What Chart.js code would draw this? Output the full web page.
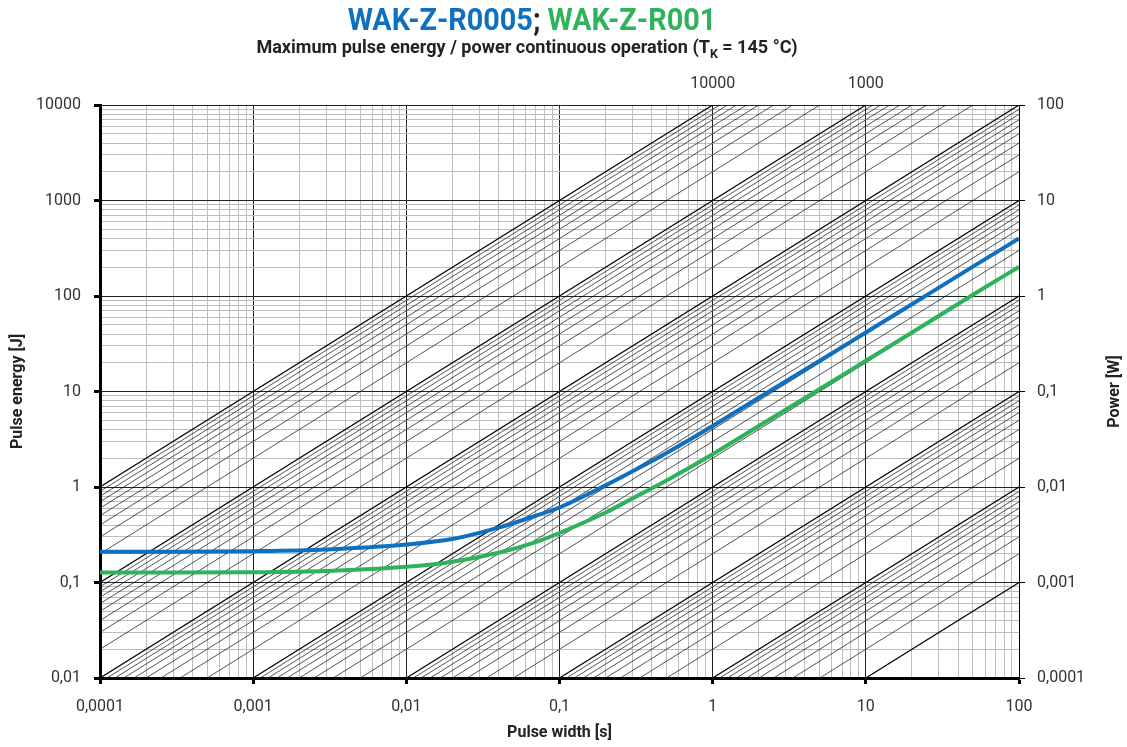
<!DOCTYPE html>
<html>
<head>
<meta charset="utf-8">
<script src="https://cdn.jsdelivr.net/npm/chart.js@4.4.1/dist/chart.umd.min.js"></script>
<style>
  body { margin: 0; background: #fff; }
  #wrap { position: relative; width: 1127px; height: 747px; }
  #title, #subtitle { position: absolute; left: 0; text-align: center; font-family: Roboto, "Liberation Sans", sans-serif; font-weight: bold; white-space: nowrap; transform-origin: center; }
  #title { top: 0px; width: 1064px; font-size: 32px; color: #222; transform: scaleX(0.9); }
  #subtitle { top: 35px; width: 1054px; font-size: 19px; color: #222; transform: scaleX(0.95); }
  #subtitle sub { font-size: 13px; }
  .blue { color: #0F70C0; }
  .green { color: #2EB35B; }
</style>
</head>
<body>
<div id="wrap">
  <canvas id="chart" width="1127" height="747"></canvas>
  <div id="title"><span class="blue">WAK-Z-R0005</span>; <span class="green">WAK-Z-R001</span></div>
  <div id="subtitle">Maximum pulse energy / power continuous operation (T<sub>K</sub> = 145 °C)</div>
</div>
<script>
// axes
const xDecades = [0.0001, 0.001, 0.01, 0.1, 1, 10, 100];
const xTickLabels = ["0,0001", "0,001", "0,01", "0,1", "1", "10", "100"];
const yDecades = [0.01, 0.1, 1, 10, 100, 1000, 10000];
const yTickLabels = ["0,01", "0,1", "1", "10", "100", "1000", "10000"];
const powerDecades = [0.0001, 0.001, 0.01, 0.1, 1, 10, 100];
const powerTickLabels = ["0,0001", "0,001", "0,01", "0,1", "1", "10", "100"];
const gridSteps = [1, 2, 3, 4, 5, 6, 7, 8, 9];

// constant power lines (W) and the two labelled at the top
const powerLineDecades = [0.001, 0.01, 0.1, 1, 10, 100, 1000, 10000];
const topPowerLabels = [10000, 1000];

// curves
const pulseWidth = [0.0001, 0.0003, 0.001, 0.003, 0.01, 0.02, 0.04, 0.07, 0.1, 0.2, 0.3, 0.5, 1, 2, 5, 10, 20, 50, 100];
const energyR0005 = [0.21, 0.21, 0.213, 0.222, 0.25, 0.285, 0.375, 0.50, 0.61, 1.04, 1.46, 2.27, 4.35, 8.6, 21, 41.5, 82, 203, 400];
const energyR001 = [0.127, 0.127, 0.128, 0.132, 0.146, 0.165, 0.205, 0.265, 0.33, 0.54, 0.76, 1.17, 2.2, 4.35, 10.6, 21, 41.5, 103, 202];

function gridValues(decades) {
  const out = [];
  for (let i = 0; i < decades.length - 1; i++) gridSteps.forEach(k => out.push(k * decades[i]));
  out.push(decades[decades.length - 1]);
  return out;
}
function decadeIndex(v, decades) {
  return decades.findIndex(d => Math.abs(Math.log10(v) - Math.log10(d)) < 1e-6);
}

const powerLines = [];
powerLineDecades.forEach((d, i) => {
  if (i === powerLineDecades.length - 1) { powerLines.push({ p: d, major: true }); return; }
  gridSteps.forEach(k => powerLines.push({ p: k * d, major: k === 1 }));
});

const tickFont = { family: "Roboto", size: 16 };
const titleFont = { family: "Roboto", size: 16, weight: "bold" };

const powerGrid = {
  id: "powerGrid",
  beforeDatasetsDraw(chart) {
    const { ctx, chartArea: a, scales: { x, y } } = chart;
    ctx.save();
    ctx.beginPath();
    ctx.rect(a.left, a.top, a.right - a.left, a.bottom - a.top);
    ctx.clip();
    powerLines.forEach(l => {
      ctx.beginPath();
      ctx.moveTo(x.getPixelForValue(x.min), y.getPixelForValue(l.p * x.min));
      ctx.lineTo(x.getPixelForValue(x.max), y.getPixelForValue(l.p * x.max));
      ctx.lineWidth = l.major ? 1.2 : 0.8;
      ctx.strokeStyle = l.major ? "#000" : "rgba(0,0,0,0.85)";
      ctx.stroke();
    });
    ctx.restore();
  },
  afterDraw(chart) {
    const { ctx, chartArea: a, scales: { x, y, y2 } } = chart;
    ctx.save();
    ctx.fillStyle = "#333";
    ctx.font = "16px Roboto";
    ctx.textAlign = "center";
    ctx.textBaseline = "middle";
    topPowerLabels.forEach(p => ctx.fillText(String(p), x.getPixelForValue(y.max / p), a.top - 21));
    ctx.fillStyle = "#222";
    ctx.font = "bold 16px Roboto";
    ctx.translate(y2.right - 12, (a.top + a.bottom) / 2);
    ctx.rotate(-Math.PI / 2);
    ctx.fillText("Power [W]", 0, 0);
    ctx.restore();
  }
};

function logAxis(decades, labels, extra) {
  return Object.assign({
    type: "logarithmic",
    min: decades[0],
    max: decades[decades.length - 1],
    afterBuildTicks: s => { s.ticks = gridValues(decades).map(v => ({ value: v })); },
    ticks: {
      autoSkip: false, maxRotation: 0, color: "#333", font: tickFont, padding: 13,
      callback: v => { const i = decadeIndex(v, decades); return i >= 0 ? labels[i] : ""; }
    },
    grid: {
      color: c => decadeIndex(c.tick.value, decades) >= 0 ? "#222" : "#bdbdbd",
      lineWidth: 1,
      tickLength: 6,
      tickColor: c => decadeIndex(c.tick.value, decades) >= 0 ? "#000" : "rgba(0,0,0,0)",
      tickWidth: 3
    },
    border: { color: "#000", width: 3 }
  }, extra);
}

new Chart(document.getElementById("chart"), {
  type: "line",
  data: {
    datasets: [
      { label: "WAK-Z-R0005", data: pulseWidth.map((t, i) => ({ x: t, y: energyR0005[i] })), borderColor: "#0F70C0", borderWidth: 4, pointRadius: 0, cubicInterpolationMode: "monotone", yAxisID: "y" },
      { label: "WAK-Z-R001", data: pulseWidth.map((t, i) => ({ x: t, y: energyR001[i] })), borderColor: "#2EB35B", borderWidth: 4, pointRadius: 0, cubicInterpolationMode: "monotone", yAxisID: "y" }
    ]
  },
  options: {
    responsive: false,
    animation: false,
    layout: { padding: { top: 105, left: 0, right: 0, bottom: 0 } },
    plugins: { legend: { display: false }, tooltip: { enabled: false } },
    scales: {
      x: logAxis(xDecades, xTickLabels, {
        position: "bottom",
        afterFit: s => { s.height = 69; },
        title: { display: true, text: "Pulse width [s]", color: "#222", font: titleFont, padding: { top: 0, bottom: 4 } }
      }),
      y: logAxis(yDecades, yTickLabels, {
        position: "left",
        afterFit: s => { s.width = 100; },
        title: { display: true, text: "Pulse energy [J]", color: "#222", font: titleFont, padding: { top: 8, bottom: 0 } }
      }),
      y2: {
        type: "logarithmic",
        position: "right",
        min: powerDecades[0],
        max: powerDecades[powerDecades.length - 1],
        afterBuildTicks: s => { s.ticks = powerDecades.map(v => ({ value: v })); },
        afterFit: s => { s.width = 108; },
        ticks: {
          autoSkip: false, maxRotation: 0, color: "#333", font: tickFont, padding: 12,
          callback: v => { const i = decadeIndex(v, powerDecades); return i >= 0 ? powerTickLabels[i] : ""; }
        },
        grid: { drawOnChartArea: false, tickLength: 6, tickColor: "#000", tickWidth: 1 },
        border: { color: "#000", width: 1 }
      }
    }
  },
  plugins: [powerGrid]
});
</script>
</body>
</html>
